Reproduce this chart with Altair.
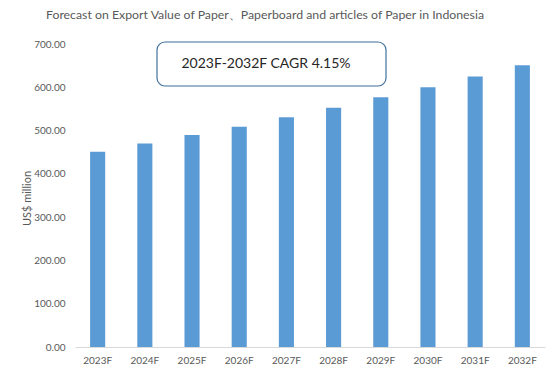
import altair as alt
import pandas as pd

years = ["2023F", "2024F", "2025F", "2026F", "2027F", "2028F", "2029F", "2030F", "2031F", "2032F"]
values = [451, 470, 490, 509, 531, 553, 577, 600, 625, 651]
y_ticks = [0, 100, 200, 300, 400, 500, 600, 700]
title_text = "Forecast on Export Value of Paper\u3001Paperboard and articles of Paper in Indonesia"
cagr_text = "2023F-2032F CAGR 4.15%"

df = pd.DataFrame({"year": years, "value": values})

FONT = "Lato"
W, H = 470, 303

bars = alt.Chart(df).mark_bar(color="#5B9BD5").encode(
    x=alt.X("year:N", sort=years,
            scale=alt.Scale(paddingInner=0.68, paddingOuter=0.32),
            axis=alt.Axis(title=None, labelAngle=0, ticks=False, domainColor="#D9D9D9",
                          labelColor="#595959", labelFont=FONT, labelFontSize=10, labelPadding=8)),
    y=alt.Y("value:Q", scale=alt.Scale(domain=[0, 700], nice=False),
            axis=alt.Axis(values=y_ticks, format=".2f", grid=False, domain=False, ticks=False,
                          labelColor="#595959", labelFont=FONT, labelFontSize=10, labelPadding=10,
                          title="US$ million", titleColor="#595959", titleFont=FONT,
                          titleFontSize=11, titleFontWeight="normal",
                          titleX=-48, titleY=154, titleAngle=270,
                          titleAlign="center", titleBaseline="middle")),
)

box = alt.Chart(pd.DataFrame({"t": [cagr_text]})).mark_rect(
    fill="white", stroke="#41719C", strokeWidth=1.2, cornerRadius=8
).encode(x=alt.value(82), x2=alt.value(311), y=alt.value(-2), y2=alt.value(42))

box_text = alt.Chart(pd.DataFrame({"t": [cagr_text]})).mark_text(
    font=FONT, fontSize=14, color="#262626", align="center", baseline="middle"
).encode(text="t:N", x=alt.value(191), y=alt.value(20))

title = alt.Chart(pd.DataFrame({"t": [title_text]})).mark_text(
    font=FONT, fontSize=12.3, color="#595959", align="center", baseline="middle"
).encode(text="t:N", x=alt.value(190), y=alt.value(-29))

chart = alt.layer(bars, box, box_text, title).properties(
    width=W, height=H,
    autosize=alt.AutoSizeParams(type="none"),
    padding={"left": 75, "top": 44, "right": 5, "bottom": 28},
    background="white",
).configure_view(stroke=None)

chart.save("out.html", embed_options={"renderer": "svg", "actions": False})
